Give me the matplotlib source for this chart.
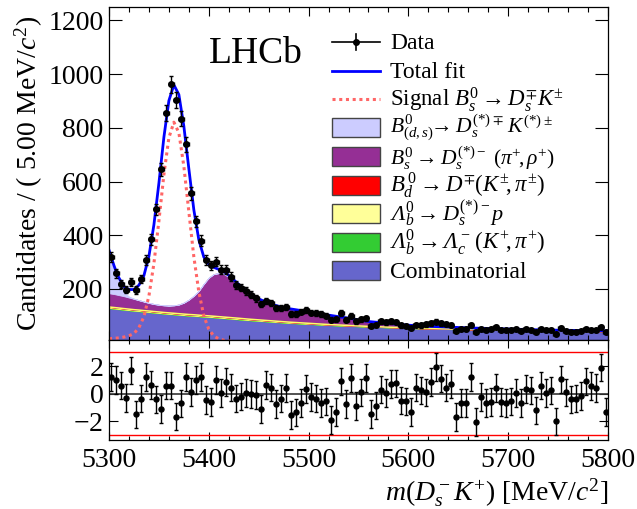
import numpy as np
import matplotlib
matplotlib.use("Agg")
import matplotlib.pyplot as plt
from matplotlib.ticker import MultipleLocator, FixedLocator
from matplotlib.lines import Line2D
from matplotlib.patches import Rectangle

plt.rcParams['font.family'] = ['Liberation Serif', 'DejaVu Serif']
plt.rcParams['mathtext.fontset'] = 'custom'
plt.rcParams['mathtext.rm'] = 'Liberation Serif'
plt.rcParams['mathtext.it'] = 'Liberation Serif:italic'
plt.rcParams['mathtext.bf'] = 'Liberation Serif:bold'
# sans slot reused for italic capital Greek (Lambda)
plt.rcParams['mathtext.sf'] = 'Liberation Serif:italic'
plt.rcParams['mathtext.fallback'] = 'stix'

# binned data, 5 MeV bins from 5300 to 5800
bin_lo = 5300
bin_width = 5
data = [320, 258, 218, 198, 227, 196, 236, 308, 385, 496,
        645, 855, 962, 903, 834, 738, 556, 452, 380, 308,
        289, 302, 271, 271, 246, 215, 205, 192, 178, 165,
        144, 155, 147, 128, 128, 134, 107, 107, 116, 122,
        112, 110, 106, 101, 85, 87, 110, 85, 101, 79,
        87, 91, 62, 66, 79, 76, 79, 77, 64, 62,
        54, 66, 64, 68, 72, 78, 72, 69, 66, 45,
        50, 50, 66, 41, 50, 48, 50, 57, 48, 48,
        48, 51, 45, 51, 48, 39, 51, 48, 48, 33,
        54, 45, 41, 41, 45, 50, 48, 48, 57, 41]

pulls = [1.2, 1.0, 0.6, -0.3, 1.7, -1.5, -0.35, 1.2, 0.65, -0.4,
         -1.1, 0.6, 0.6, -1.65, -0.7, 1.2, 0.15, 1.0, 1.2, -0.45,
         -0.6, 1.0, 0.05, 0.85, 0.45, -0.35, -0.2, 0.05, 0.0, -0.1,
         -1.1, 0.65, 0.45, -0.75, -0.35, 0.4, -1.55, -1.35, -0.65, 0.35,
         -0.25, -0.35, -0.65, -0.55, -1.9, -1.3, 0.9, -0.75, 1.15, -0.9,
         0.1, 1.15, -1.45, -0.85, 0.3, 0.05, 0.7, 0.75, -0.5, -0.55,
         -1.3, 0.45, 0.25, 0.1, 0.85, 1.95, 1.1, 0.45, 0.7, -1.7,
         -0.65, -0.65, 1.2, -2.05, -0.25, -0.65, -0.6, 0.4, -0.6, -0.65,
         -0.55, 0.05, -0.65, 0.35, 0.25, -1.2, 0.6, 0.05, 0.25, -2.0,
         1.05, 0.1, -0.4, -0.35, -0.15, 0.9, 0.55, 0.4, 1.9, -1.3]

# fit components sampled along the mass axis
mass_grid = [5300, 5302.5, 5305, 5307.5, 5310,
             5315, 5320, 5325, 5330, 5335, 5340, 5345, 5350, 5355, 5360,
             5365, 5370, 5375, 5380, 5385, 5390, 5395, 5400, 5405, 5410,
             5415, 5420, 5425, 5430,
             5440, 5450, 5460, 5470, 5480, 5490, 5500,
             5520, 5540, 5560, 5580, 5600, 5620, 5640, 5660, 5680, 5700,
             5720, 5740, 5760, 5780, 5800]

comb = [128, 127, 126, 125, 124,
        122, 120, 118, 116.5, 114.5, 113, 111, 109.5, 107.5, 106,
        104.5, 103, 101.5, 100, 99, 97.5, 96, 95, 93.5, 92,
        90.5, 89, 87.5, 86,
        83, 80.5, 78, 75.5, 73, 71, 69,
        65, 62, 59, 56.5, 54, 52, 50.5, 49, 47.5, 46.5,
        45.5, 44.5, 43.5, 42.5, 41.5]

lb_lcK = [1.5, 1.5, 1.5, 1.5, 1.5,
          1.5, 1.5, 1.5, 1.5, 1.5, 1.5, 1.5, 1.5, 1.5, 1.5,
          1.5, 1.5, 1.5, 1.5, 1.5, 1.5, 1.5, 1.5, 1.5, 1.5,
          1.5, 1.5, 1.5, 1.5,
          1.4, 1.35, 1.3, 1.25, 1.2, 1.15, 1.1,
          1.0, 0.9, 0.8, 0.7, 0.6, 0.5, 0.45, 0.4, 0.35, 0.3,
          0.3, 0.25, 0.25, 0.2, 0.2]

lb_dsp = [3.5, 3.5, 3.5, 3.5, 3.5,
          3.5, 3.5, 3.5, 3.5, 3.5, 3.5, 3.5, 3.5, 3.5, 3.5,
          3.5, 3.5, 3.5, 3.5, 3.5, 3.5, 3.5, 3.5, 3.5, 3.5,
          3.5, 3.5, 3.5, 3.5,
          3.3, 3.1, 2.9, 2.7, 2.5, 2.3, 2.1,
          1.7, 1.3, 1.0, 0.7, 0.5, 0.35, 0.25, 0.2, 0.15, 0.1,
          0.1, 0.1, 0.1, 0.1, 0.1]

bd_dk = [0.5, 0.5, 0.5, 0.4, 0.4,
         0.3, 0.3, 0.2, 0.2, 0.1, 0.1, 0, 0, 0, 0,
         0, 0, 0, 0, 0, 0, 0, 0, 0, 0,
         0, 0, 0, 0,
         0, 0, 0, 0, 0, 0, 0,
         0, 0, 0, 0, 0, 0, 0, 0, 0, 0,
         0, 0, 0, 0, 0]

bs_dspi = [50.5, 50, 49.6, 48.6, 47.6,
           45.7, 42.7, 39.8, 36.3, 33.4, 29.9, 28, 26.5, 26.5, 27,
           29.5, 34, 42.5, 55, 71, 90.5, 118, 142, 157, 162,
           160.5, 151, 137.5, 123,
           96, 77, 64, 55.5, 50, 46.5, 44,
           35, 27, 18, 14, 10, 8, 7, 5.5, 5, 4,
           3, 2.2, 2.2, 2.2, 2.2]

partreco = [146, 118, 90, 66, 46,
            15, 4, 1, 0.3, 0.1, 0, 0, 0, 0, 0,
            0, 0, 0, 0, 0, 0, 0, 0, 0, 0,
            0, 0, 0, 0,
            0, 0, 0, 0, 0, 0, 0,
            0, 0, 0, 0, 0, 0, 0, 0, 0, 0,
            0, 0, 0, 0, 0]

signal = [15, 15.5, 16, 17, 18,
          21, 26, 34, 56, 97, 174, 295, 453, 626, 763,
          821, 782, 657, 488, 320, 190, 100, 50, 25, 14,
          9, 6, 4, 3,
          2, 1.2, 0.7, 0.4, 0.2, 0.1, 0.05,
          0, 0, 0, 0, 0, 0, 0, 0, 0, 0,
          0, 0, 0, 0, 0]

# stacked background, bottom to top
stack = [
    (comb, '#6666cc'),
    (lb_lcK, '#33cc33'),
    (lb_dsp, '#ffff66'),
    (bd_dk, '#ff0000'),
    (bs_dspi, '#952f95'),
    (partreco, '#ccccff'),
]

centers = bin_lo + bin_width * (np.arange(len(data)) + 0.5)
data = np.array(data, dtype=float)
grid = np.array(mass_grid, dtype=float)

fig = plt.figure(figsize=(6.37, 5.09), dpi=100)
W, H = 637.0, 509.0
ax = fig.add_axes([109 / W, 1 - 340 / H, 499 / W, 333 / H])
axp = fig.add_axes([109 / W, 1 - 440 / H, 499 / W, 100 / H])

base = np.zeros_like(grid)
for values, colour in stack:
    top = base + np.array(values, dtype=float)
    ax.fill_between(grid, base, top, color=colour, lw=0.6, edgecolor=colour)
    if colour == '#ffff66':
        ax.plot(grid, top, color=colour, lw=1.1)
    base = top
bkg_total = base
total = bkg_total + np.array(signal, dtype=float)

ax.plot(grid, signal, color='#ff6666', lw=2.2, ls=(0, (1, 1.2)))
ax.plot(grid, total, color='#0000ff', lw=2.0)

ax.errorbar(centers, data, yerr=np.sqrt(data), xerr=bin_width / 2, fmt='o',
            color='black', ms=4, elinewidth=1.0, capsize=1.5, capthick=1.0)

ax.set_xlim(5300, 5800)
ax.set_ylim(10, 1250)
ax.yaxis.set_major_locator(FixedLocator([200, 400, 600, 800, 1000, 1200]))
ax.xaxis.set_major_locator(MultipleLocator(100))
ax.xaxis.set_minor_locator(MultipleLocator(20))
ax.tick_params(axis='both', which='both', direction='in', top=True, right=True,
               labelsize=20, width=0.8)
ax.tick_params(axis='y', which='major', length=9.4, pad=4)
ax.tick_params(axis='x', which='major', length=6.5)
ax.tick_params(axis='x', which='minor', length=3.6)
ax.tick_params(axis='x', labelbottom=False)
ax.set_ylabel(r'Candidates / ( 5.00 MeV/$c^2$)', fontsize=20, labelpad=2)

ax.text(100 / 499, 1 - 56 / 333, 'LHCb', transform=ax.transAxes,
        fontsize=27, ha='left', va='baseline')

# legend built entry by entry so rows keep an even pitch
# (kind, colour, label, font size, baseline nudge in px)
entries = [
    ('data', None, 'Data', 17, 0),
    ('line', '#0000ff', 'Total fit', 17, 0),
    ('dots', '#ff6666', r'Signal $B_s^0 \rightarrow D_s^{\mp}K^{\pm}$', 16.5, 0),
    ('box', '#ccccff', r'$B^0_{(d,s)}\!\!\rightarrow D_s^{(*)\mp}\,K^{(*)\pm}$', 15.5, -1.5),
    ('box', '#952f95', r'$B^0_s \rightarrow D_s^{(*)-}\ (\pi^{+}\!,\rho^{+})$', 15.5, 1.5),
    ('box', '#ff0000', r'$B^{\,0}_d \rightarrow D^{\mp}(K^{\pm}\!,\pi^{\pm})$', 16.5, 0),
    ('box', '#ffff99', r'$\mathsf{\Lambda}^0_b \rightarrow D_s^{(*)-}p$', 16, 0),
    ('box', '#33cc33', r'$\mathsf{\Lambda}^0_b \rightarrow \mathsf{\Lambda}_c^-\,(K^{+}\!,\pi^{+})$', 16.5, 0),
    ('box', '#6666cc', 'Combinatorial', 17, 0),
]
x0, x1, xt = 332, 380, 390
fx = lambda px: px / W
fy = lambda py: 1 - py / H
for k, (kind, colour, label, size, nudge) in enumerate(entries):
    yc = 42 + 28.6 * k
    if kind == 'data':
        fig.add_artist(Line2D([fx(x0), fx(x1)], [fy(yc), fy(yc)], color='black', lw=1.2))
        fig.add_artist(Line2D([fx((x0 + x1) / 2)] * 2, [fy(yc - 8), fy(yc + 8)], color='black', lw=1.2))
        fig.add_artist(Line2D([fx((x0 + x1) / 2)], [fy(yc)], color='black', marker='o', ms=4))
    elif kind == 'line':
        fig.add_artist(Line2D([fx(x0), fx(x1)], [fy(yc), fy(yc)], color=colour, lw=2.0))
    elif kind == 'dots':
        fig.add_artist(Line2D([fx(x0), fx(x1)], [fy(yc), fy(yc)], color=colour, lw=2.2, ls=(0, (1, 1.2))))
    else:
        fig.add_artist(Rectangle((fx(x0), fy(yc + 9.5)), (x1 - x0) / W, 19 / H,
                                 facecolor=colour, edgecolor='#444444', lw=1.0))
    fig.text(fx(xt), fy(yc + 7 + nudge), label, fontsize=size, ha='left', va='baseline')

# pull panel
axp.axhline(0, color='#333333', lw=1.2)
axp.axhline(3, color='red', lw=1.0)
axp.axhline(-3, color='red', lw=1.0)
axp.errorbar(centers, pulls, yerr=1.0, fmt='o', color='black', ms=3.6,
             elinewidth=1.0, capsize=1.5, capthick=1.0)
axp.set_xlim(5300, 5800)
axp.set_ylim(-3.35, 3.9)
axp.yaxis.set_major_locator(FixedLocator([-2, 0, 2]))
axp.xaxis.set_major_locator(MultipleLocator(100))
axp.xaxis.set_minor_locator(MultipleLocator(20))
axp.tick_params(axis='both', which='both', direction='in', top=True, right=True,
                labelsize=20, width=0.8)
axp.tick_params(axis='y', which='major', length=6.5, pad=4)
axp.tick_params(axis='x', which='major', length=5.8, pad=6)
axp.tick_params(axis='x', which='minor', length=2.9)
axp.set_yticklabels([r'$-2$', '0', '2'])
axp.set_xlabel(r'$m(D_s^- K^{+})$ [MeV/$c^2$]', fontsize=20, loc='right', labelpad=2)

for a in (ax, axp):
    for s in a.spines.values():
        s.set_linewidth(0.9)

fig.savefig('out.png', dpi=100)
